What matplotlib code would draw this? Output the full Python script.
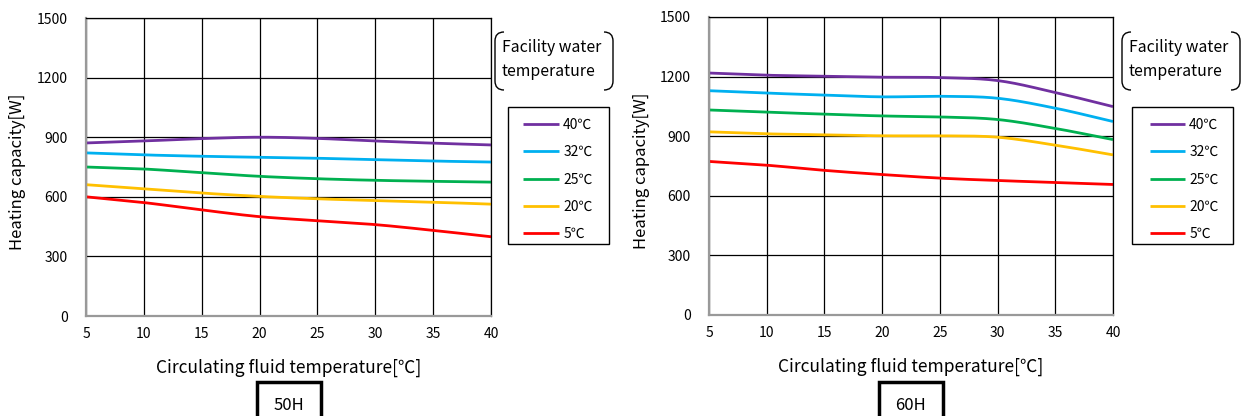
import numpy as np
import matplotlib
matplotlib.use("Agg")
import matplotlib.pyplot as plt
from matplotlib.path import Path
from matplotlib.patches import PathPatch, Rectangle

plt.rcParams['font.family'] = ['Noto Sans CJK JP', 'DejaVu Sans']

# data
temps = [5, 10, 15, 20, 25, 30, 35, 40]
labels = ["40℃", "32℃", "25℃", "20℃", "5℃"]
colors = ["#7030A0", "#00B0F0", "#00B050", "#FFC000", "#FF0000"]

cap_50h_40 = [871, 881, 893, 900, 894, 881, 870, 861]
cap_50h_32 = [821, 811, 804, 799, 794, 787, 780, 775]
cap_50h_25 = [750, 740, 721, 703, 691, 683, 678, 674]
cap_50h_20 = [661, 640, 619, 602, 590, 581, 573, 563]
cap_50h_5 = [600, 571, 534, 500, 480, 460, 431, 399]

cap_60h_40 = [1218, 1207, 1202, 1197, 1195, 1180, 1120, 1049]
cap_60h_32 = [1129, 1117, 1107, 1098, 1101, 1091, 1041, 974]
cap_60h_25 = [1032, 1021, 1011, 1002, 997, 984, 939, 883]
cap_60h_20 = [922, 912, 907, 902, 902, 895, 855, 806]
cap_60h_5 = [773, 754, 728, 707, 689, 677, 667, 657]

W, H = 1248, 416


def smooth(x, y, n=20):
    # catmull-rom style smoothing, like the spreadsheet's smoothed lines
    x = np.asarray(x, float)
    y = np.asarray(y, float)
    px = np.concatenate([[2 * x[0] - x[1]], x, [2 * x[-1] - x[-2]]])
    py = np.concatenate([[2 * y[0] - y[1]], y, [2 * y[-1] - y[-2]]])
    xs, ys = [], []
    t = np.linspace(0, 1, n, endpoint=False)
    for i in range(1, len(px) - 2):
        for p, out in ((px, xs), (py, ys)):
            p0, p1, p2, p3 = p[i - 1], p[i], p[i + 1], p[i + 2]
            out.extend(0.5 * (2 * p1 + (-p0 + p2) * t + (2 * p0 - 5 * p1 + 4 * p2 - p3) * t ** 2
                              + (-p0 + 3 * p1 - 3 * p2 + p3) * t ** 3))
    xs.append(x[-1])
    ys.append(y[-1])
    return xs, ys


def fx(v):
    return v / W


def fy(v):
    return 1 - v / H


def bracket(fig, x0, x1, y0, y1, r=9):
    for side in (0, 1):
        xe = x0 if side == 0 else x1
        xi = xe + r if side == 0 else xe - r
        verts = [(xi, y0), (xe, y0), (xe, y0 + r), (xe, y1 - r), (xe, y1), (xi, y1)]
        codes = [Path.MOVETO, Path.CURVE3, Path.CURVE3, Path.LINETO, Path.CURVE3, Path.CURVE3]
        verts = [(fx(a), fy(b)) for a, b in verts]
        fig.add_artist(PathPatch(Path(verts, codes), fill=False, lw=1.0, ec="black",
                                 transform=fig.transFigure))


def panel(fig, left, top, right, bottom, series, name, br_x, frame_x, hand_x, hand_len, box_x):
    ax = fig.add_axes([fx(left), fy(bottom), fx(right - left), (bottom - top) / H])
    handles = []
    for vals, c, lab in zip(series, colors, labels):
        xs, ys = smooth(temps, vals)
        ln, = ax.plot(xs, ys, color=c, lw=2.0, label=lab, solid_capstyle="butt")
        handles.append(ln)
    ax.set_xlim(5, 40)
    ax.set_ylim(0, 1500)
    ax.set_xticks(temps)
    ax.set_yticks(range(0, 1501, 300))
    ax.grid(True, color="black", lw=0.9)
    ax.set_axisbelow(True)
    ax.tick_params(length=0, labelsize=10, pad=8)
    ax.tick_params(axis="y", pad=13)
    for s in ("left", "bottom"):
        ax.spines[s].set_color("#999999")
        ax.spines[s].set_linewidth(1.6)
    for s in ("top", "right"):
        ax.spines[s].set_color("black")
        ax.spines[s].set_linewidth(0.9)
    ax.set_ylabel("Heating capacity[W]", fontsize=12)
    ax.yaxis.set_label_coords(-0.147, 0.483)
    ax.set_xlabel("Circulating fluid temperature[℃]", fontsize=12.5, labelpad=13)

    # facility water caption
    fig.text(fx(br_x + 7), fy(47), "Facility water", fontsize=11.4, va="center", ha="left")
    fig.text(fx(br_x + 7), fy(72), "temperature", fontsize=11.4, va="center", ha="left")
    bracket(fig, br_x, br_x + 118, 32, 90)

    # legend: entries without frame, frame drawn as its own box
    fsz = 10
    fig.legend(handles=handles, loc="upper left",
               bbox_to_anchor=(fx(hand_x), fy(118)), fontsize=fsz,
               frameon=False, handlelength=hand_len / (fsz * 100 / 72),
               handletextpad=0.3, labelspacing=0.96,
               borderpad=0, borderaxespad=0)
    fig.add_artist(Rectangle((fx(frame_x), fy(244)), fx(101), (244 - 107) / H, fill=False,
                             lw=1.0, ec="black", transform=fig.transFigure))

    fig.add_artist(Rectangle((fx(box_x), fy(430)), fx(64), (430 - 382) / H, fill=False,
                             lw=2.5, ec="black", transform=fig.transFigure, clip_on=False))
    fig.text(fx(box_x + 32), fy(405), name, fontsize=12, ha="center", va="center")
    return ax


fig = plt.figure(figsize=(W / 100, H / 100), dpi=100)
panel(fig, 86, 18, 491, 316,
      [cap_50h_40, cap_50h_32, cap_50h_25, cap_50h_20, cap_50h_5], "50H",
      495, 508, 523, 36, 257)
panel(fig, 709, 17, 1113, 315,
      [cap_60h_40, cap_60h_32, cap_60h_25, cap_60h_20, cap_60h_5], "60H",
      1122, 1132, 1150, 35, 879)
fig.savefig("out.png", dpi=100)
